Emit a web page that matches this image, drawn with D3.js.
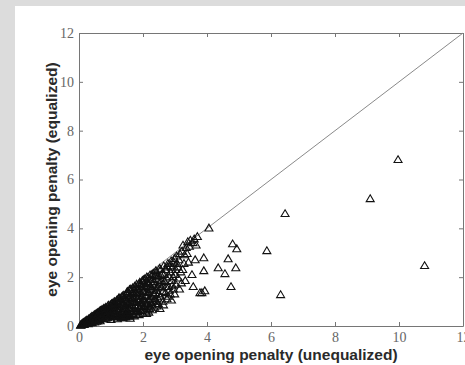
<!DOCTYPE html>
<html>
<head>
<meta charset="utf-8">
<script src="https://cdn.jsdelivr.net/npm/d3@7"></script>
<style>
  html, body { margin: 0; padding: 0; background: #dcdcdc; }
  svg { display: block; }
</style>
</head>
<body>
<svg id="chart" width="465" height="365"></svg>
<script>
// Eye opening penalty per channel: unequalized (x) vs equalized (y)
const penaltyUnequalized = [
  0.05, 0.10, 0.12, 0.15, 0.18, 0.20, 0.22, 0.25, 0.28, 0.30, 0.30,
  0.33, 0.35, 0.38, 0.40, 0.42, 0.45, 0.47, 0.50, 0.52, 0.55, 0.55, 0.58, 0.60,
  0.62, 0.64, 0.66, 0.68, 0.70, 0.72, 0.74, 0.76, 0.78, 0.80, 0.82, 0.84, 0.86, 0.88, 0.90,
  0.92, 0.94, 0.96, 0.98, 1.00, 1.00, 1.02, 1.04, 1.06, 1.08, 1.10, 1.12, 1.14, 1.16, 1.18, 1.20,
  1.20, 1.22, 1.24, 1.26, 1.28, 1.30, 1.32, 1.34, 1.36, 1.38, 1.40, 1.40, 1.42, 1.44, 1.45, 1.46, 1.48, 1.50, 1.50,
  1.52, 1.54, 1.55, 1.56, 1.58, 1.60, 1.60, 1.62, 1.64, 1.66, 1.68, 1.70, 1.70, 1.72, 1.74, 1.76, 1.78, 1.80,
  1.80, 1.82, 1.84, 1.86, 1.88, 1.90, 1.90, 1.92, 1.94, 1.96, 1.98, 2.00, 2.00, 2.02, 2.04, 2.06, 2.08, 2.10, 2.10,
  2.12, 2.14, 2.16, 2.18, 2.20, 2.22, 2.24, 2.26, 2.28, 2.30, 2.32, 2.34, 2.36, 2.38, 2.40, 2.40,
  2.42, 2.45, 2.48, 2.50, 2.52, 2.55, 2.58, 2.60, 2.62, 2.65, 2.68, 2.70,
  2.72, 2.75, 2.78, 2.80, 2.82, 2.85, 2.88, 2.90, 2.92, 2.95, 2.98, 3.00,
  3.02, 3.05, 3.08, 3.10, 3.15, 3.18, 3.22, 3.25, 3.28, 3.32, 3.35, 3.40, 3.42, 3.48, 3.53, 3.57, 3.60, 3.63, 3.70,
  0.08, 0.14, 0.20, 0.26, 0.32, 0.36, 0.40, 0.44, 0.48, 0.50, 0.54, 0.56, 0.60, 0.62, 0.66, 0.68,
  0.72, 0.74, 0.78, 0.80, 0.84, 0.86, 0.90, 0.92, 0.96, 0.98, 1.02, 1.05, 1.08, 1.10, 1.14, 1.18,
  1.22, 1.25, 1.28, 1.30, 1.33, 1.36, 1.38, 1.42, 1.43, 1.47, 1.50, 1.52, 1.55, 1.58, 1.62, 1.65,
  1.68, 1.72, 1.75, 1.78, 1.82, 1.85, 1.88, 1.92, 1.95, 1.98, 2.02, 2.05, 2.08, 2.12, 2.15, 2.18,
  2.22, 2.25, 2.28, 2.32, 2.35, 2.38, 2.42, 2.46, 2.50, 2.55, 2.58, 2.62, 2.66, 2.72, 2.76, 2.82,
  2.86, 2.92, 2.96, 3.02, 3.12, 3.20, 3.30,
  3.78, 3.84, 3.90, 3.90, 3.93, 4.06, 4.35, 4.56, 4.66, 4.75, 4.80, 4.93, 4.90,
  5.87, 6.30, 6.44, 9.10, 9.97, 10.80,
  0.06, 0.11, 0.16, 0.19, 0.23, 0.24, 0.27, 0.29, 0.31, 0.34,
  0.37, 0.39, 0.41, 0.43, 0.46, 0.49, 0.51, 0.53, 0.57, 0.59,
  0.61, 0.63, 0.65, 0.67, 0.69, 0.71, 0.73, 0.75, 0.77, 0.79,
  0.81, 0.83, 0.85, 0.87, 0.89, 0.91, 0.93, 0.95, 0.97, 0.99,
  1.01, 1.03, 1.07, 1.09, 1.11, 1.13, 1.15, 1.17, 1.19, 1.21,
  1.23, 1.27, 1.29, 1.31, 1.35, 1.37, 1.39, 1.41, 1.44, 1.46,
  1.49, 1.51, 1.53, 1.57, 1.59, 1.61, 1.63, 1.67, 1.69, 1.71,
  1.73, 1.77, 1.79, 1.81, 1.83, 1.87, 1.89, 1.91, 1.93, 1.97,
  1.99, 2.01, 2.03, 2.07, 2.09, 2.11, 2.13, 2.17, 2.19, 2.21,
  2.23, 2.27, 2.29, 2.31, 2.33, 2.37, 2.39, 2.43, 2.47, 2.49,
  2.53, 2.57, 2.61, 2.64, 2.69, 2.74, 2.79, 2.84, 2.89, 2.94,
  2.99, 3.06, 3.14, 3.24, 3.38, 3.45, 3.56, 3.66
];
const penaltyEqualized = [
  0.03, 0.05, 0.10, 0.08, 0.15, 0.10, 0.18, 0.12, 0.22, 0.15, 0.27,
  0.20, 0.32, 0.15, 0.30, 0.38, 0.20, 0.42, 0.30, 0.46, 0.18, 0.38, 0.52, 0.28,
  0.45, 0.58, 0.20, 0.36, 0.62, 0.50, 0.28, 0.68, 0.42, 0.56, 0.72, 0.30, 0.62, 0.48, 0.80,
  0.36, 0.68, 0.55, 0.86, 0.25, 0.44, 0.74, 0.92, 0.60, 0.35, 0.82, 0.98, 0.50, 0.70, 1.04, 0.28,
  0.90, 0.60, 1.10, 0.42, 0.78, 1.00, 0.32, 1.18, 0.55, 0.88, 1.25, 0.40, 0.70, 0.45, 1.05, 0.35, 1.30, 0.62, 0.90,
  1.40, 0.42, 1.15, 0.75, 1.48, 0.30, 1.00, 0.58, 1.30, 0.85, 1.55, 0.45, 1.15, 0.70, 1.62, 0.95, 1.35, 0.55,
  1.70, 1.10, 0.80, 1.50, 0.45, 1.78, 1.25, 0.95, 0.62, 1.60, 1.85, 1.05, 0.50, 1.40, 0.78, 1.92, 1.20, 1.65, 0.60,
  2.00, 0.90, 1.35, 1.75, 0.70, 2.08, 1.10, 1.50, 0.85, 1.90, 2.15, 1.30, 0.75, 1.65, 2.25, 1.00,
  1.45, 2.00, 0.90, 1.75, 2.35, 1.20, 1.55, 2.15, 1.00, 2.45, 1.80, 1.35,
  2.30, 1.10, 2.55, 1.60, 2.00, 1.30, 2.65, 1.85, 2.40, 1.50, 2.75, 2.10,
  1.70, 2.85, 2.40, 1.95, 2.95, 2.20, 3.05, 3.30, 2.55, 1.85, 3.20, 3.44, 2.60, 3.50, 2.09, 1.60, 3.55, 2.70, 3.65,
  0.07, 0.13, 0.19, 0.20, 0.28, 0.25, 0.38, 0.30, 0.45, 0.40, 0.50, 0.30, 0.55, 0.38, 0.60, 0.50,
  0.66, 0.55, 0.72, 0.45, 0.76, 0.52, 0.65, 0.84, 0.72, 0.48, 0.90, 0.78, 0.52, 0.98, 0.84, 0.62,
  0.95, 1.15, 0.50, 0.38, 0.85, 1.22, 0.45, 0.36, 1.10, 0.48, 1.38, 0.40, 0.95, 0.68, 1.50, 1.10,
  0.50, 1.45, 0.82, 1.58, 1.30, 0.65, 1.72, 1.10, 0.82, 1.45, 1.88, 1.00, 1.55, 1.25, 1.95, 0.55,
  1.60, 0.95, 2.10, 1.45, 1.80, 1.10, 2.20, 1.60, 1.05, 2.30, 1.85, 1.40, 2.10, 1.60, 2.40, 1.45,
  2.20, 1.65, 2.60, 2.30, 2.70, 1.75, 2.90,
  1.35, 1.35, 2.25, 2.78, 1.43, 4.00, 2.37, 2.13, 2.74, 1.60, 3.35, 3.15, 2.37,
  3.07, 1.27, 4.59, 5.20, 6.80, 2.46,
  0.02, 0.09, 0.05, 0.12, 0.09, 0.22, 0.16, 0.08, 0.22, 0.12,
  0.34, 0.22, 0.12, 0.26, 0.36, 0.15, 0.24, 0.36, 0.44, 0.20,
  0.50, 0.25, 0.42, 0.62, 0.28, 0.44, 0.60, 0.35, 0.50, 0.64,
  0.38, 0.60, 0.42, 0.70, 0.32, 0.58, 0.75, 0.42, 0.62, 0.80,
  0.55, 0.38, 0.86, 0.68, 0.45, 0.90, 0.58, 0.40, 0.78, 1.05,
  0.36, 0.68, 1.12, 0.55, 0.95, 0.32, 0.62, 1.15, 0.80, 0.42,
  1.00, 0.52, 1.25, 0.85, 0.40, 1.20, 0.72, 1.38, 0.62, 0.98,
  0.40, 1.20, 0.72, 1.50, 0.58, 1.02, 1.38, 0.72, 1.70, 0.92,
  1.20, 0.65, 1.72, 0.88, 1.38, 0.50, 1.80, 1.05, 1.50, 0.80,
  1.88, 1.20, 0.65, 1.70, 1.00, 2.05, 1.35, 0.80, 1.90, 1.30,
  0.70, 2.05, 1.70, 0.85, 2.30, 1.95, 1.20, 2.45, 1.05, 2.00,
  1.30, 2.55, 1.50, 2.30, 2.95, 3.25, 3.40, 3.30
];
const tickValues = [0, 2, 4, 6, 8, 10, 12];

const points = penaltyUnequalized.map((v, i) => ({ x: v, y: penaltyEqualized[i] }));

const svg = d3.select("#chart");

// figure panel
svg.append("rect")
  .attr("x", 15).attr("y", 6)
  .attr("width", 450).attr("height", 359)
  .attr("fill", "#ffffff");

const x = d3.scaleLinear().domain([0, 12]).range([79, 463]);
const y = d3.scaleLinear().domain([0, 12]).range([326, 33]);

const axisColor = "#767676";
const tickFont = "'Liberation Serif', 'Times New Roman', serif";
const labelFont = "'Liberation Sans', Arial, sans-serif";

function styleAxis(g, showText) {
  g.select(".domain").attr("stroke", axisColor).attr("stroke-width", 1);
  g.selectAll(".tick line").attr("stroke", axisColor).attr("stroke-width", 1);
  g.selectAll(".tick text")
    .attr("fill", "#666")
    .style("font-family", tickFont)
    .style("font-size", "14px");
  if (!showText) g.selectAll(".tick text").remove();
}

svg.append("g")
  .attr("transform", `translate(0,${y(0)})`)
  .call(d3.axisBottom(x).tickValues(tickValues).tickFormat(d3.format("d"))
    .tickSizeInner(-4).tickSizeOuter(0).tickPadding(6))
  .call(g => styleAxis(g, true));

svg.append("g")
  .attr("transform", `translate(${x(0)},0)`)
  .call(d3.axisLeft(y).tickValues(tickValues).tickFormat(d3.format("d"))
    .tickSizeInner(-4).tickSizeOuter(0).tickPadding(5))
  .call(g => styleAxis(g, true));

svg.append("g")
  .attr("transform", `translate(0,${y(12)})`)
  .call(d3.axisTop(x).tickValues(tickValues).tickSizeInner(-4).tickSizeOuter(0))
  .call(g => styleAxis(g, false));

svg.append("g")
  .attr("transform", `translate(${x(12)},0)`)
  .call(d3.axisRight(y).tickValues(tickValues).tickSizeInner(-4).tickSizeOuter(0))
  .call(g => styleAxis(g, false));

// reference line: equal penalty with and without equalization
svg.append("line")
  .attr("x1", x(0)).attr("y1", y(0))
  .attr("x2", x(12)).attr("y2", y(12))
  .attr("stroke", "#8a8a8a")
  .attr("stroke-width", 1);

// open triangle markers
const tri = "M0,-4.2L4,2.6L-4,2.6Z";
svg.append("g")
  .selectAll("path")
  .data(points)
  .join("path")
  .attr("transform", d => `translate(${x(d.x)},${y(d.y)})`)
  .attr("d", tri)
  .attr("fill", "none")
  .attr("stroke", "#111")
  .attr("stroke-width", 1.1);

// axis titles
svg.append("text")
  .attr("x", (x(0) + x(12)) / 2)
  .attr("y", 360)
  .attr("text-anchor", "middle")
  .attr("fill", "#2a2a2a")
  .style("font-family", labelFont)
  .style("font-size", "15.5px")
  .style("font-weight", "bold")
  .text("eye opening penalty (unequalized)");

svg.append("text")
  .attr("transform", `translate(57,${(y(0) + y(12)) / 2}) rotate(-90)`)
  .attr("text-anchor", "middle")
  .attr("fill", "#2a2a2a")
  .style("font-family", labelFont)
  .style("font-size", "15.5px")
  .style("font-weight", "bold")
  .text("eye opening penalty (equalized)");
</script>
</body>
</html>
